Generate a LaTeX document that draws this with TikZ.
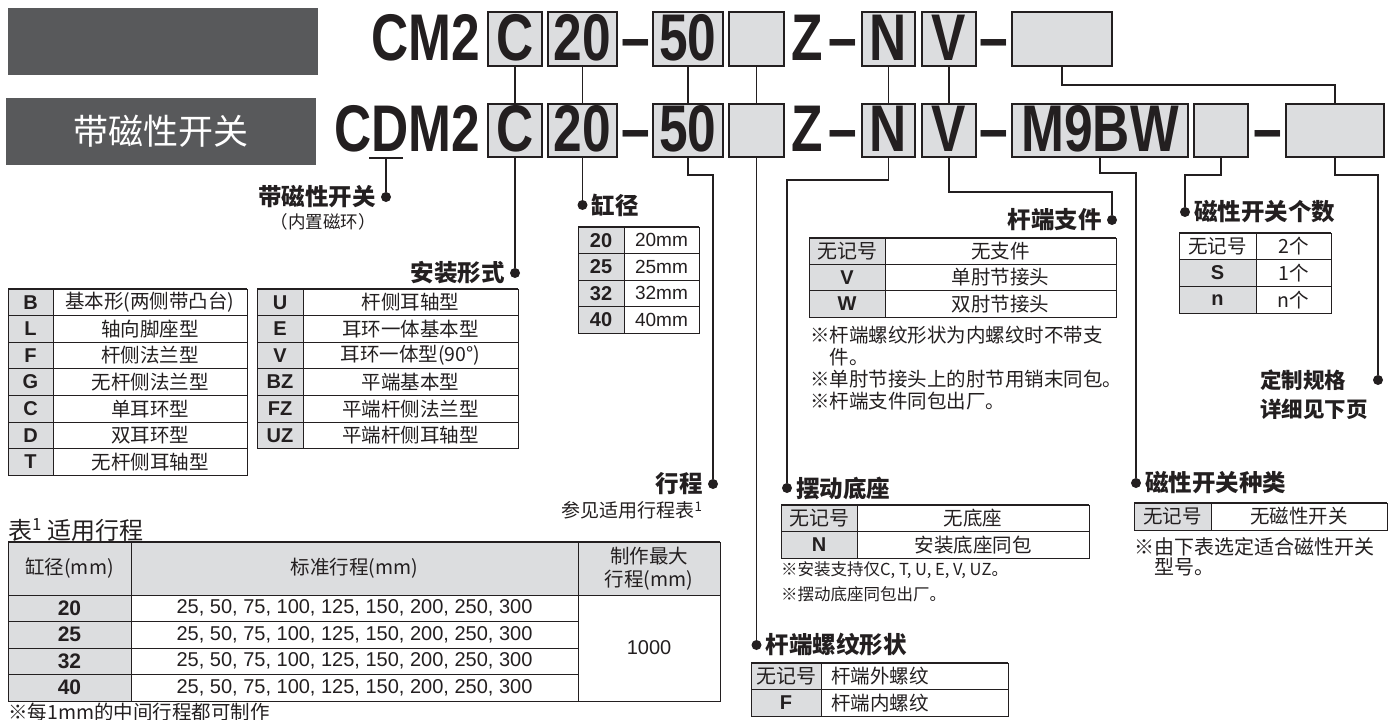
\documentclass[tikz,border=0pt]{standalone}
\usepackage{fontspec}
\setmainfont{Liberation Sans}
\newfontfamily\cjk{Noto Sans CJK SC}
\newfontfamily\narrowfont[FakeStretch=0.78]{Liberation Sans}
\usetikzlibrary{positioning}
\definecolor{ink}{HTML}{231F20}
\definecolor{boxgray}{HTML}{DCDDDF}
\definecolor{darkbar}{HTML}{58595B}
\tikzset{
  code/.style={inner sep=0pt, outer sep=0pt, text=ink, text height=47pt, text depth=5pt,
    font=\narrowfont\bfseries\fontsize{66}{66}\selectfont},
  codebox/.style={code, draw=ink, line width=1.4pt, fill=boxgray, minimum height=54pt},
  bar/.style={fill=darkbar, inner sep=0pt, minimum width=310pt, minimum height=67pt},
  wire/.style={draw=ink, line width=1.8pt},
  dot/.style={circle, fill=ink, inner sep=0pt, minimum size=10pt},
  lbl/.style={inner sep=0pt, text=ink, font=\cjk\bfseries\fontsize{23.5}{23.5}\selectfont},
  sub/.style={inner sep=0pt, text=ink, font=\cjk\fontsize{17.5}{17.5}\selectfont},
  key/.style={draw=ink, line width=0.8pt, fill=boxgray, inner sep=0pt, outer sep=0pt, text=ink,
    font=\bfseries\fontsize{20}{20}\selectfont},
  val/.style={draw=ink, line width=0.8pt, fill=white, inner sep=0pt, outer sep=0pt, text=ink,
    font=\cjk\fontsize{19.5}{19.5}\selectfont},
  note/.style={inner sep=0pt, align=left, text=ink, font=\cjk\fontsize{19.5}{22}\selectfont},
  topline/.style={draw=ink, line width=2pt},
}

\begin{document}
\begin{tikzpicture}[x=1pt, y=-1pt]
\useasboundingbox (0,0) rectangle (1390,720);

\node[bar] (bar1) at (163,41.5) {};
\node[bar, text=white, font=\cjk\fontsize{35}{35}\selectfont] (bar2) at (161,131) {带磁性开关};

\node[code, anchor=east] (tcm) at (480,39) {CM2};
\node[codebox, minimum width=54pt] (tc) at (515,39) {C};
\node[codebox, minimum width=69pt] (t20) at (582.5,39) {20};
\node[code] (tda) at (636,39) {–};
\node[codebox, minimum width=70pt] (t50) at (688,39) {50};
\node[codebox, minimum width=55pt] (te1) at (756.5,39) {};
\node[code] (tz) at (807,39) {Z};
\node[code] (tdb) at (842.5,39) {–};
\node[codebox, minimum width=53pt] (tn) at (888.5,39) {N};
\node[codebox, minimum width=54pt] (tv) at (949,39) {V};
\node[code] (tdc) at (993.5,39) {–};
\node[codebox, minimum width=100pt] (tx) at (1062,39) {};

\node[code, anchor=east] (bcdm) at (480,130.5) {CDM2};
\node[codebox, minimum width=54pt, minimum height=53pt] (bc) at (515,130.5) {C};
\node[codebox, minimum width=69pt, minimum height=53pt] (b20) at (582.5,130.5) {20};
\node[code] (bda) at (636,130.5) {–};
\node[codebox, minimum width=70pt, minimum height=53pt] (b50) at (688,130.5) {50};
\node[codebox, minimum width=55pt, minimum height=53pt] (be1) at (756.5,130.5) {};
\node[code] (bz) at (807,130.5) {Z};
\node[code] (bdb) at (842.5,130.5) {–};
\node[codebox, minimum width=53pt, minimum height=53pt] (bn) at (888.5,130.5) {N};
\node[codebox, minimum width=54pt, minimum height=53pt] (bv) at (949,130.5) {V};
\node[code] (bdc) at (993.5,130.5) {–};
\node[codebox, minimum width=176pt, minimum height=53pt] (bsw) at (1100,130.5) {M9BW};
\node[codebox, minimum width=54pt, minimum height=53pt] (be2) at (1221,130.5) {};
\node[code] (bdd) at (1267.5,130.5) {–};
\node[codebox, minimum width=98pt, minimum height=53pt] (bx) at (1335,130.5) {};

\draw[wire] (tc.south) -- (bc.north);
\draw[wire] (t20.south) -- (b20.north);
\draw[wire] (t50.south) -- (b50.north);
\draw[wire] (te1.south) -- (be1.north);
\draw[wire] (tn.south) -- (bn.north);
\draw[wire] (tv.south) -- (bv.north);
\draw[wire] (tx.south) -- ++(0,19) -| (bx.north);

\coordinate (dmark) at ([xshift=-94pt, yshift=-1.5pt]bcdm.south east);
\draw[wire, line width=2.2pt] ([xshift=-17pt]dmark) -- ([xshift=17pt]dmark);

\node[dot] (dmag) at (386,197) {};
\node[lbl, left=5pt of dmag] (lmag) {带磁性开关};
\node[sub, below left=5pt and 0pt of lmag.south east] (lmag2) {（内置磁环）};
\node[dot] (dmount) at (515,273) {};
\node[lbl, left=5pt of dmount] (lmount) {安装形式};
\node[dot] (dbore) at (582.5,205) {};
\node[lbl, right=4pt of dbore] (lbore) {缸径};
\node[dot] (dstroke) at (713,484) {};
\node[lbl, left=5pt of dstroke] (lstroke) {行程};
\node[sub, font=\cjk\fontsize{19}{19}\selectfont, below left=6pt and 0pt of lstroke.south east] (lstroke2) {参见适用行程表\textsuperscript{1}};
\node[dot] (dswing) at (787,488) {};
\node[lbl, right=4pt of dswing] (lswing) {摆动底座};
\node[dot] (dthread) at (756.5,645) {};
\node[lbl, right=4pt of dthread] (lthread) {杆端螺纹形状};
\node[dot] (dbracket) at (1112,220) {};
\node[lbl, left=5pt of dbracket] (lbracket) {杆端支件};
\node[dot] (dtype) at (1136,483) {};
\node[lbl, right=4pt of dtype] (ltype) {磁性开关种类};
\node[dot] (dcount) at (1185,212) {};
\node[lbl, right=4pt of dcount] (lcount) {磁性开关个数};
\node[dot] (dspec) at (1378,380) {};
\node[lbl, font=\cjk\bfseries\fontsize{21.5}{21.5}\selectfont, anchor=west] (lspec) at (1260,380) {定制规格};
\node[lbl, font=\cjk\bfseries\fontsize{21.5}{21.5}\selectfont, below right=8pt and 0pt of lspec.south west] (lspec2) {详细见下页};

\draw[wire] (dmark) -- (dmag);
\draw[wire] (bc.south) -- (dmount);
\draw[wire] (b20.south) -- (dbore);
\draw[wire] (b50.south) -- ++(0,18) -| (dstroke);
\draw[wire] (be1.south) -- (dthread);
\draw[wire] (bn.south) -- ++(0,23) -| (dswing);
\draw[wire] (bv.south) -- ++(0,35) -| (dbracket);
\draw[wire] (bsw.south) -- ++(0,16) -| (dtype);
\draw[wire] (be2.south) -- ++(0,18) -| (dcount);
\draw[wire] (bx.south) -- ++(0,18) -| (dspec);

\foreach \k/\v [count=\i] in {B/{基本形(两侧带凸台)},L/轴向脚座型,F/杆侧法兰型,G/无杆侧法兰型,C/单耳环型,D/双耳环型,T/无杆侧耳轴型}
{
  \node[key, minimum width=45pt, minimum height=26.6pt, anchor=north west] (mk\i) at (8,{289+26.6*(\i-1)}) {\k};
  \node[val, minimum width=194pt, minimum height=26.6pt, anchor=west] (mv\i) at (mk\i.east) {\v};
}
\draw[topline] (mk1.north west) -- (mv1.north east);
\foreach \k/\v [count=\i] in {U/杆侧耳轴型,E/耳环一体基本型,V/{耳环一体型(90°)},BZ/平端基本型,FZ/平端杆侧法兰型,UZ/平端杆侧耳轴型}
{
  \node[key, minimum width=46pt, minimum height=26.6pt, anchor=north west] (nk\i) at (257,{289+26.6*(\i-1)}) {\k};
  \node[val, minimum width=215pt, minimum height=26.6pt, anchor=west] (nv\i) at (nk\i.east) {\v};
}
\draw[topline] (nk1.north west) -- (nv1.north east);

\foreach \k [count=\i] in {20,25,32,40}
{
  \node[key, minimum width=46pt, minimum height=26.5pt, anchor=north west] (bk\i) at (578,{227+26.5*(\i-1)}) {\k};
  \node[val, font=\fontsize{19}{19}\selectfont, minimum width=75pt, minimum height=26.5pt, anchor=west] (bv\i) at (bk\i.east) {\k mm};
}
\draw[topline] (bk1.north west) -- (bv1.north east);

\foreach \k/\v [count=\i] in {{\cjk\mdseries 无记号}/无支件,V/单肘节接头,W/双肘节接头}
{
  \node[key, minimum width=76pt, minimum height=26.3pt, anchor=north west] (rk\i) at (809,{238+26.3*(\i-1)}) {\k};
  \node[val, minimum width=231pt, minimum height=26.3pt, anchor=west] (rv\i) at (rk\i.east) {\v};
}
\draw[topline] (rk1.north west) -- (rv1.north east);
\node[note, anchor=north west] (nbracket) at (810,326) {※杆端螺纹形状为内螺纹时不带支\\\hspace*{1em}件。\\※单肘节接头上的肘节用销末同包。\\※杆端支件同包出厂。};

\node[key, fill=white, font=\cjk\fontsize{19.5}{19.5}\selectfont, minimum width=77pt, minimum height=26.7pt, anchor=north west] (ck1) at (1179,233) {无记号};
\node[val, minimum width=75pt, minimum height=26.7pt, anchor=west] (cv1) at (ck1.east) {2个};
\foreach \k/\v [count=\i from 2] in {S/1个,n/n个}
{
  \node[key, minimum width=77pt, minimum height=26.7pt, anchor=north west] (ck\i) at (1179,{233+26.7*(\i-1)}) {\k};
  \node[val, minimum width=75pt, minimum height=26.7pt, anchor=west] (cv\i) at (ck\i.east) {\v};
}
\draw[topline] (ck1.north west) -- (cv1.north east);

\foreach \k/\v [count=\i] in {{\cjk\mdseries 无记号}/无底座,N/安装底座同包}
{
  \node[key, minimum width=76pt, minimum height=26.5pt, anchor=north west] (wk\i) at (781,{505+26.5*(\i-1)}) {\k};
  \node[val, minimum width=232pt, minimum height=26.5pt, anchor=west] (wv\i) at (wk\i.east) {\v};
}
\draw[topline] (wk1.north west) -- (wv1.north east);
\node[note, font=\cjk\fontsize{16.5}{25}\selectfont, anchor=north west] (nswing) at (781,561) {※安装支持仅C, T, U, E, V, UZ。\\※摆动底座同包出厂。};

\foreach \k/\v [count=\i] in {{\cjk\mdseries 无记号}/杆端外螺纹,F/杆端内螺纹}
{
  \node[key, minimum width=70pt, minimum height=26.5pt, anchor=north west] (fk\i) at (751,{663+26.5*(\i-1)}) {\k};
  \node[val, inner xsep=10pt, text width=167pt, align=left, minimum height=26.5pt, anchor=west] (fv\i) at (fk\i.east) {\v};
}
\draw[topline] (fk1.north west) -- (fv1.north east);

\node[key, font=\cjk\fontsize{19.5}{19.5}\selectfont, minimum width=77pt, minimum height=27pt, anchor=north west] (sk) at (1134,503) {无记号};
\node[val, minimum width=176pt, minimum height=27pt, anchor=west] (sv) at (sk.east) {无磁性开关};
\draw[topline] (sk.north west) -- (sv.north east);
\node[note, font=\cjk\fontsize{20}{20}\selectfont, anchor=north west] (ntype) at (1134,537) {※由下表选定适合磁性开关\\\hspace*{1em}型号。};

\node[anchor=west, inner sep=0pt, text=ink, font=\cjk\fontsize{24}{24}\selectfont] (ttitle) at (8,530) {表\textsuperscript{1} 适用行程};
\node[val, fill=boxgray, minimum width=123pt, minimum height=53pt, anchor=north west] (th1) at (8,542) {缸径(mm)};
\node[val, fill=boxgray, minimum width=447pt, minimum height=53pt, anchor=west] (th2) at (th1.east) {标准行程(mm)};
\node[val, fill=boxgray, font=\cjk\fontsize{19.5}{23}\selectfont, align=center, minimum width=142pt, minimum height=53pt, anchor=west] (th3) at (th2.east) {制作最大\\行程(mm)};
\foreach \k [count=\i] in {20,25,32,40}
{
  \node[key, font=\bfseries\fontsize{21}{21}\selectfont, minimum width=123pt, minimum height=26.5pt, anchor=north west] (tk\i) at (8,{595+26.5*(\i-1)}) {\k};
  \node[val, font=\fontsize{20}{20}\selectfont, minimum width=447pt, minimum height=26.5pt, anchor=west] (tv\i) at (tk\i.east) {25, 50, 75, 100, 125, 150, 200, 250, 300};
}
\node[val, font=\fontsize{20}{20}\selectfont, minimum width=142pt, minimum height=106pt, anchor=north west] (tmax) at (th3.south west) {1000};
\draw[topline] (th1.north west) -- (th3.north east);
\node[note, anchor=north west] (tnote) at (8,703) {※每1mm的中间行程都可制作};
\end{tikzpicture}
\end{document}
